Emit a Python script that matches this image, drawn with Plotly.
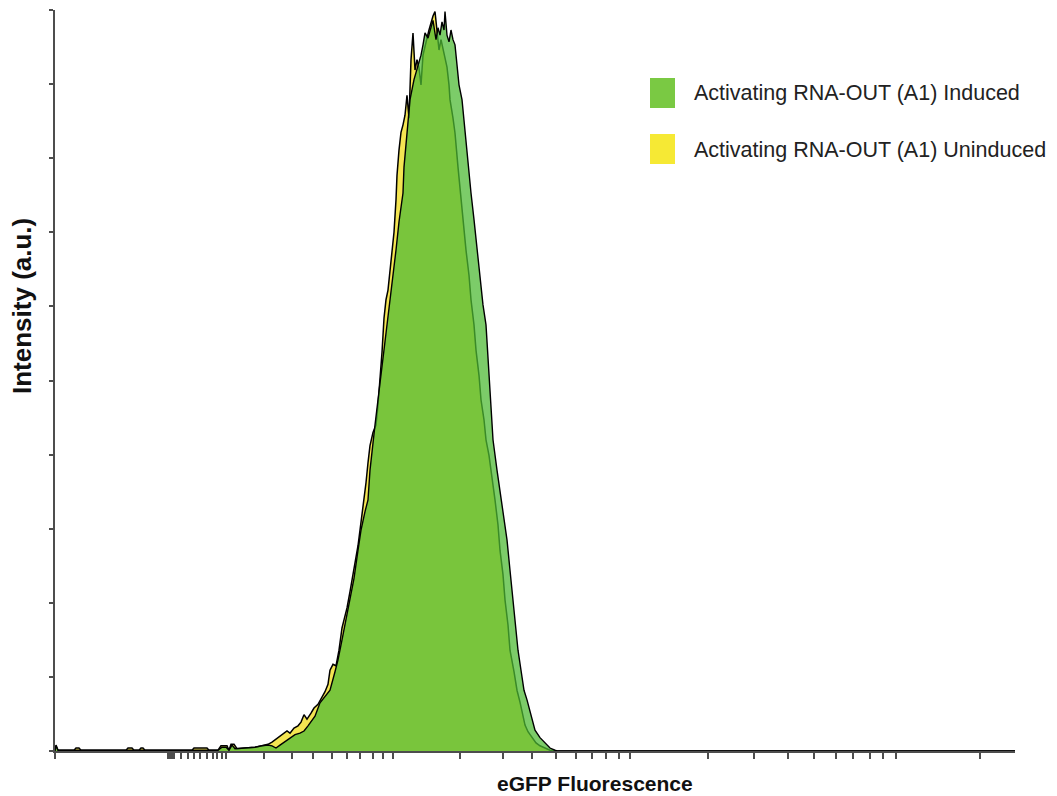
import plotly.graph_objects as go

# Fluorescence channel (display scale) and normalised intensity for each sample
uninduced_ch = [0, 1, 3, 19, 21, 24, 26, 71, 73, 77, 79, 84, 86, 88, 90, 137, 139, 152, 154,
                163, 166, 172, 174, 176, 179, 182, 190, 200, 207, 213, 217, 221, 225, 229, 232,
                235, 239, 243, 246, 249, 252, 256, 259, 263, 267, 270, 273, 275, 278, 281, 284,
                287, 289, 292, 295, 298, 301, 303, 305, 307, 309, 311, 313, 315, 318, 321, 323,
                325, 327, 329, 331, 333, 335, 337, 339, 341, 342, 344, 346, 348, 350, 352, 354,
                356, 358, 360, 362, 364, 366, 368, 370, 372, 374, 376, 378, 380, 382, 384, 386,
                388, 390, 392, 394, 395, 398, 400, 403, 406, 409, 411, 414, 416, 419, 421, 424,
                426, 429, 431, 434, 437, 440, 443, 445, 448, 450, 453, 455, 459, 462, 465, 467,
                470, 473, 477, 481, 485, 490, 495, 500, 960]
uninduced_val = [0, 0.08, 0.01, 0.01, 0.04, 0.04, 0.01, 0.01, 0.04, 0.04, 0.01, 0.01, 0.04, 0.04,
                 0.01, 0.01, 0.04, 0.04, 0.01, 0.01, 0.07, 0.07, 0.01, 0.09, 0.09, 0.03, 0.04,
                 0.05, 0.07, 0.09, 0.12, 0.16, 0.19, 0.23, 0.27, 0.24, 0.31, 0.34, 0.39, 0.49,
                 0.43, 0.51, 0.58, 0.63, 0.72, 0.80, 0.90, 1.09, 1.17, 1.15, 1.36, 1.66, 1.77,
                 1.93, 2.15, 2.38, 2.60, 2.77, 2.98, 3.18, 3.35, 3.62, 3.89, 4.12, 4.30, 4.40,
                 4.67, 5.01, 5.38, 5.84, 6.09, 6.22, 6.46, 6.73, 7.00, 7.44, 7.77, 8.11, 8.35,
                 8.45, 8.58, 8.85, 8.54, 9.33, 9.69, 9.19, 9.33, 9.22, 8.99, 9.39, 9.49, 9.62,
                 9.73, 9.84, 9.92, 9.98, 9.73, 9.46, 9.60, 9.49, 9.35, 9.23, 8.99, 8.79, 8.54,
                 8.34, 7.88, 7.44, 7.06, 6.76, 6.42, 6.09, 5.75, 5.41, 5.07, 4.74, 4.47, 4.20,
                 3.99, 3.72, 3.39, 3.05, 2.71, 2.38, 2.04, 1.70, 1.36, 1.07, 0.82, 0.66, 0.53,
                 0.35, 0.26, 0.18, 0.11, 0.07, 0.04, 0.01, 0, 0]

induced_ch = [0, 1, 3, 163, 167, 171, 174, 177, 180, 190, 200, 207, 213, 217, 221, 225, 230, 235,
              240, 245, 249, 253, 256, 260, 265, 270, 275, 280, 283, 287, 290, 293, 295, 299,
              303, 306, 310, 313, 315, 317, 320, 323, 326, 329, 332, 335, 338, 341, 344, 348,
              349, 352, 355, 359, 363, 366, 368, 370, 373, 375, 378, 381, 383, 385, 387, 389,
              390, 392, 394, 396, 398, 400, 402, 404, 407, 410, 413, 416, 419, 422, 425, 428,
              431, 433, 435, 438, 442, 445, 448, 452, 455, 458, 461, 463, 466, 469, 472, 476,
              480, 485, 490, 495, 500, 502, 960]
induced_val = [0, 0.07, 0.01, 0.01, 0.05, 0.05, 0.01, 0.08, 0.03, 0.04, 0.05, 0.07, 0.08, 0.07,
               0.04, 0.08, 0.13, 0.18, 0.22, 0.24, 0.27, 0.34, 0.39, 0.47, 0.65, 0.73, 0.82,
               1.07, 1.23, 1.50, 1.70, 1.90, 2.04, 2.33, 2.71, 2.98, 3.23, 3.39, 3.79, 4.06,
               4.40, 4.74, 5.07, 5.41, 5.75, 6.09, 6.42, 6.76, 7.14, 7.53, 7.88, 8.34, 8.79,
               9.06, 9.23, 9.39, 9.53, 9.69, 9.62, 9.73, 9.86, 9.60, 9.76, 9.66, 9.84, 9.73,
               9.98, 9.66, 9.57, 9.73, 9.60, 9.53, 9.23, 8.99, 8.79, 8.34, 7.88, 7.53, 7.17,
               6.76, 6.36, 6.02, 5.75, 5.28, 4.74, 4.20, 3.79, 3.52, 3.25, 2.85, 2.44, 2.04,
               1.63, 1.36, 1.09, 0.82, 0.69, 0.49, 0.28, 0.18, 0.11, 0.04, 0.01, 0, 0]

# Biexponential-style tick positions on the channel scale
x_tick_positions = [0, 113, 115, 117, 119, 126, 133, 139, 145, 152, 158, 162, 167, 171,
                    209, 237, 258, 277, 292, 305, 318, 328, 338, 405, 448, 477, 501, 521,
                    537, 551, 564, 575, 653, 699, 733, 759, 781, 798, 815, 828, 841, 925]
y_tick_positions = [0, 1, 2, 3, 4, 5, 6, 7, 8, 9, 10]

series_names = ["Activating RNA-OUT (A1) Induced", "Activating RNA-OUT (A1) Uninduced"]
x_title = "eGFP Fluorescence"
y_title = "Intensity (a.u.)"

YELLOW = "#f4e552"
GREEN_OVERLAY = "rgba(78,186,52,0.74)"
LEGEND_COLORS = ["#7ac943", "#f6e934"]

fig = go.Figure()
fig.add_trace(go.Scatter(
    x=uninduced_ch, y=uninduced_val, mode="lines", name=series_names[1],
    fill="tozeroy", fillcolor=YELLOW, line=dict(color="#000000", width=1.5),
    showlegend=False,
))
fig.add_trace(go.Scatter(
    x=induced_ch, y=induced_val, mode="lines", name=series_names[0],
    fill="tozeroy", fillcolor=GREEN_OVERLAY, line=dict(color="#000000", width=1.4),
    showlegend=False,
))

axis_color = "#4d4d4d"
fig.update_xaxes(
    range=[0, 960], showgrid=False, zeroline=False, showline=True, linecolor=axis_color,
    linewidth=2, ticks="outside", ticklen=6, tickwidth=1.5, tickcolor=axis_color,
    tickvals=x_tick_positions, showticklabels=False,
)
fig.update_yaxes(
    range=[0, 10], showgrid=False, zeroline=False, showline=True, linecolor=axis_color,
    linewidth=2, ticks="outside", ticklen=4, tickwidth=1.5, tickcolor=axis_color,
    tickvals=y_tick_positions, showticklabels=False,
)

PLOT_W, PLOT_H = 960, 741
LEFT, TOP = 55, 10


def px_x(px):
    return (px - LEFT) / PLOT_W


def px_y(py):
    return (TOP + PLOT_H - py) / PLOT_H


sans = "Liberation Sans, Arial, sans-serif"

annotations = [
    dict(text=f"<b>{x_title}</b>", x=px_x(595), y=px_y(783), xref="paper", yref="paper",
         showarrow=False, xanchor="center", yanchor="middle",
         font=dict(family=sans, size=21, color="#111111")),
    dict(text=f"<b>{y_title}</b>", x=px_x(22), y=px_y(306), xref="paper", yref="paper",
         showarrow=False, xanchor="center", yanchor="middle", textangle=-90,
         font=dict(family=sans, size=26, color="#111111")),
]
shapes = []
legend_rows = [(78, 108, 93), (134, 164, 150)]
for name, color, (y0, y1, yc) in zip(series_names, LEGEND_COLORS, legend_rows):
    shapes.append(dict(type="rect", xref="paper", yref="paper",
                       x0=px_x(650), x1=px_x(675), y0=px_y(y1), y1=px_y(y0),
                       fillcolor=color, line=dict(width=0)))
    annotations.append(dict(text=name, x=px_x(692), y=px_y(yc), xref="paper", yref="paper",
                            showarrow=False, xanchor="left", yanchor="middle",
                            font=dict(family=sans, size=21.5, color="#222222")))

fig.update_layout(
    width=1057, height=796, margin=dict(l=LEFT, r=42, t=TOP, b=45),
    paper_bgcolor="white", plot_bgcolor="white",
    annotations=annotations, shapes=shapes, showlegend=False,
)

fig.write_html("out.html")
